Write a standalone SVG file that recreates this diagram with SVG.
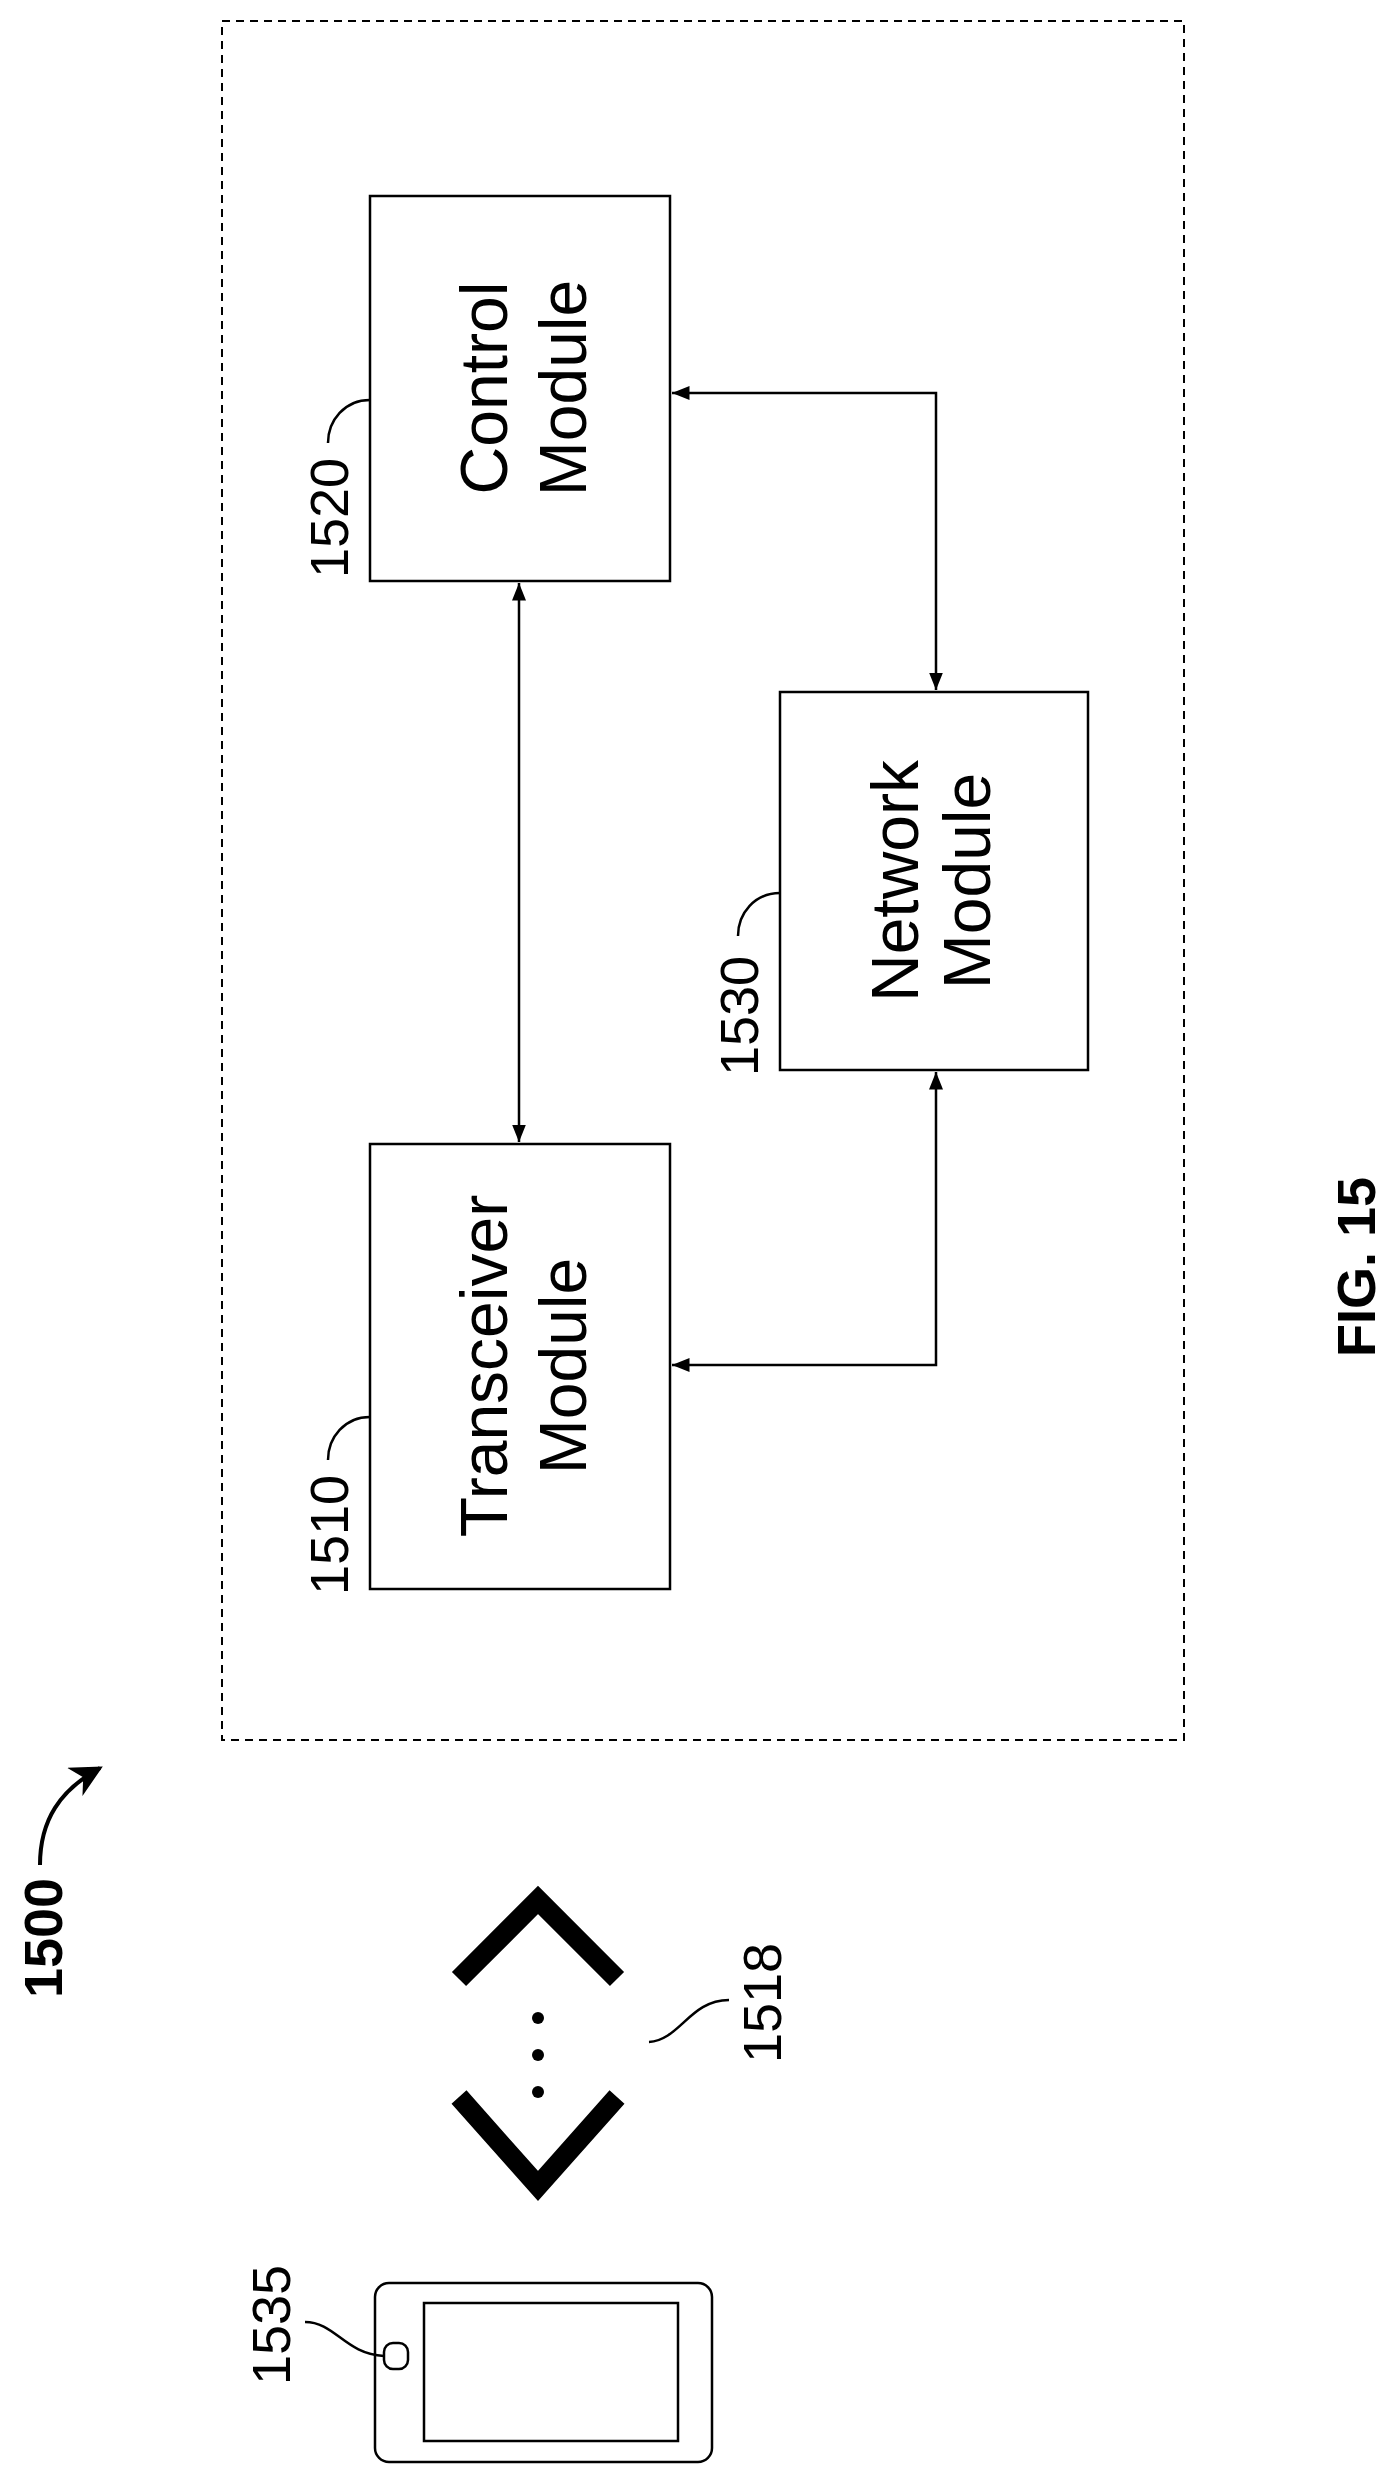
<svg xmlns="http://www.w3.org/2000/svg" width="1393" height="2475" viewBox="0 0 1393 2475">
<defs>
<style>
.b{fill:#fff;stroke:#000;stroke-width:2.5}
.t{font-family:"Liberation Sans",Arial,sans-serif;font-size:66px;text-anchor:middle}
.l{font-family:"Liberation Sans",Arial,sans-serif;font-size:54px;text-anchor:middle}
.c{fill:none;stroke:#000;stroke-width:2.5}
</style>
<marker id="a" viewBox="0 0 10 10" refX="10" refY="5" markerWidth="7" markerHeight="7" orient="auto-start-reverse" markerUnits="strokeWidth"><path d="M0,1 L10,5 L0,9 z" fill="#000"/></marker>
<marker id="big" viewBox="0 0 10 10" refX="9" refY="5" markerWidth="8" markerHeight="8" orient="auto" markerUnits="strokeWidth"><path d="M0,0 L10,5 L0,10 L3,5 z" fill="#000"/></marker>
</defs>
<rect x="222" y="21" width="962" height="1719" fill="none" stroke="#000" stroke-width="2" stroke-dasharray="8,6"/>
<g id="connectors" class="c">
<line x1="519" y1="583" x2="519" y2="1142" marker-start="url(#a)" marker-end="url(#a)"/>
<path d="M672,393 H936 V690" marker-start="url(#a)" marker-end="url(#a)"/>
<path d="M672,1365 H936 V1072" marker-start="url(#a)" marker-end="url(#a)"/>
</g>
<g id="control">
<rect class="b" x="370" y="196" width="300" height="385"/>
<text class="t" transform="translate(507,388) rotate(-90)">Control</text>
<text class="t" transform="translate(586,388) rotate(-90)">Module</text>
<text class="l" transform="translate(348,518) rotate(-90)">1520</text>
<path class="c" d="M370,400 C345,400 328,420 328,443"/>
</g>
<g id="transceiver">
<rect class="b" x="370" y="1144" width="300" height="445"/>
<text class="t" transform="translate(507,1366) rotate(-90)">Transceiver</text>
<text class="t" transform="translate(586,1366) rotate(-90)">Module</text>
<text class="l" transform="translate(348,1535) rotate(-90)">1510</text>
<path class="c" d="M370,1417 C345,1417 328,1437 328,1460"/>
</g>
<g id="network">
<rect class="b" x="780" y="692" width="308" height="378"/>
<text class="t" transform="translate(918,881) rotate(-90)">Network</text>
<text class="t" transform="translate(990,881) rotate(-90)">Module</text>
<text class="l" transform="translate(758,1016) rotate(-90)">1530</text>
<path class="c" d="M780,893 C755,893 738,913 738,936"/>
</g>
<g id="ref1500">
<text class="l" font-weight="bold" transform="translate(62,1938) rotate(-90)">1500</text>
<path d="M40,1865 C40,1820 60,1790 100,1768" fill="none" stroke="#000" stroke-width="4" marker-end="url(#big)"/>
</g>
<g id="signal">
<polyline points="459,1979 538,1900 617,1979" fill="none" stroke="#000" stroke-width="20"/>
<polyline points="459,2097 538,2186 617,2097" fill="none" stroke="#000" stroke-width="20"/>
<circle cx="538" cy="2018" r="6"/>
<circle cx="538" cy="2055" r="6"/>
<circle cx="538" cy="2092" r="6"/>
<text class="l" transform="translate(781,2003) rotate(-90)">1518</text>
<path class="c" d="M729,2000 C690,2000 680,2040 649,2042"/>
</g>
<g id="phone">
<rect class="b" x="375" y="2283" width="337" height="179" rx="14"/>
<rect class="b" x="424" y="2303" width="254" height="138"/>
<rect class="b" x="384" y="2343" width="24" height="26" rx="9"/>
<text class="l" transform="translate(290,2325) rotate(-90)">1535</text>
<path class="c" d="M305,2322 C335,2322 345,2354 384,2356"/>
</g>
<text class="l" font-weight="bold" font-size="62" transform="translate(1375,1267) rotate(-90)">FIG. 15</text>
</svg>
